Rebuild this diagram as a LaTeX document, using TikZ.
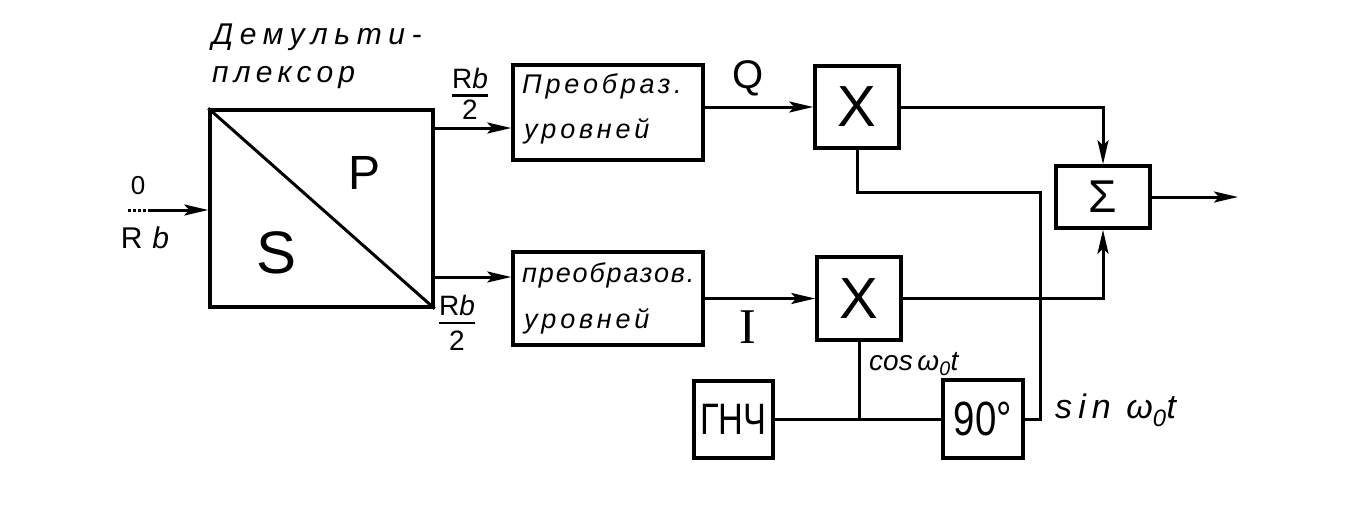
\documentclass[tikz,border=0pt]{standalone}
\usepackage{fontspec}
\setmainfont{Liberation Sans}
\newfontfamily\serifI{Liberation Serif}
\usetikzlibrary{arrows.meta}
\setlength{\arrayrulewidth}{2.5pt}
\begin{document}
\begin{tikzpicture}[x=1pt,y=-1pt,
  blk/.style={draw,line width=3.5pt,inner sep=0pt},
  wire/.style={line width=3pt},
  arr/.style={wire,-{Stealth[length=24pt,width=11pt,inset=5pt]}},
  lbl/.style={inner sep=0pt},
  hand/.style={lbl,anchor=base west,font=\fontsize{27}{30}\selectfont\itshape\addfontfeature{LetterSpace=14}},
  frac/.style={lbl,font=\fontsize{28}{30}\selectfont}
]
\path[use as bounding box,fill=white] (0,0) rectangle (1358,523);

% blocks
\node[blk,minimum width=223pt,minimum height=197pt] (dm) at (321.5,208.5) {};
\node[blk,minimum width=190pt,minimum height=95pt] (pr1) at (608,112.5) {};
\node[blk,minimum width=190pt,minimum height=93pt] (pr2) at (608,298.5) {};
\node[blk,minimum width=84pt,minimum height=82pt,font=\fontsize{58}{60}\selectfont] (x1) at (857,107) {X};
\node[blk,minimum width=84pt,minimum height=83pt,font=\fontsize{58}{60}\selectfont] (x2) at (859,298.5) {X};
\node[blk,minimum width=94pt,minimum height=62pt,font=\fontsize{46}{48}\selectfont] (sig) at (1103,197) {Σ};
\node[blk,minimum width=79pt,minimum height=77pt] (gnc) at (733.5,419.5) {\fontsize{44}{46}\selectfont\scalebox{0.78}[1]{ГНЧ}};
\node[blk,minimum width=80pt,minimum height=78pt] (p90) at (983,419) {\fontsize{48}{50}\selectfont\scalebox{0.8}[1]{90°}};

% demux interior
\draw[line width=3pt] (dm.north west) -- (dm.south east);
\node[lbl,font=\fontsize{48}{50}\selectfont] (pP) at (365,173) {P};
\node[lbl,font=\fontsize{60}{62}\selectfont] (pS) at (277,253) {S};

% texts in converters
\node[hand] (t1a) at (522,93) {Преобраз.};
\node[hand] (t1b) at (524,138) {уровней};
\node[hand,font=\fontsize{27}{30}\selectfont\itshape\addfontfeature{LetterSpace=7}] (t2a) at (522,282) {преобразов.};
\node[hand] (t2b) at (524,328) {уровней};

% title
\node[lbl,anchor=base west,font=\fontsize{30}{32}\selectfont\itshape\addfontfeature{LetterSpace=22}] (ttl1) at (212,44) {Демульти-};
\node[lbl,anchor=base west,font=\fontsize{30}{32}\selectfont\itshape\addfontfeature{LetterSpace=17}] (ttl2) at (212,82) {плексор};

% input
\coordinate (in0) at (128,210);
\coordinate (in1) at (150,210);
\draw[wire,dotted] (in0) -- (in1);
\draw[arr] (in1) -- (dm.west |- in1);
\node[lbl,font=\fontsize{26}{28}\selectfont] (lz) at (138,186) {0};
\node[lbl,font=\fontsize{30}{32}\selectfont] (lrb) at (145,238) {R\,\,{\itshape b}};

% demux outputs
\coordinate (o1) at (433,128);
\coordinate (o2) at (433,277);
\draw[arr] (o1) -- (pr1.west |- o1);
\draw[arr] (o2) -- (pr2.west |- o2);
\node[frac] (f1) at (470,98) {\begin{tabular}{@{}c@{}}R{\itshape b}\\[-3pt]\hline\\[-28pt]2\end{tabular}};
\node[frac] (f2) at (457,327) {\begin{tabular}{@{}c@{}}R{\itshape b}\\[-3pt]\hline\\[-25pt]2\end{tabular}};

% Q and I
\draw[arr] (pr1.east |- x1.west) -- (x1.west);
\draw[arr] (pr2.east |- x2.west) -- (x2.west);
\node[lbl,font=\fontsize{40}{42}\selectfont] (lQ) at (748,78) {Q};
\node[lbl,font=\serifI\fontsize{50}{52}\selectfont] (lI) at (748,327) {I};

% to summer
\draw[arr] (x1.east) -- (sig.north |- x1.east) -- (sig.north);
\draw[arr] (x2.east) -- (sig.south |- x2.east) -- (sig.south);
\coordinate (out) at (1238,197);
\draw[arr] (sig.east) -- (out);

% carrier
\coordinate (jn) at (x2.south |- gnc.east);
\draw[wire] (gnc.east) -- (p90.west |- gnc.east);
\draw[wire] (x2.south) -- (jn);
\coordinate (c1) at (1040,192);
\draw[wire] (x1.south) -- (x1.south |- c1) -- (c1) -- (c1 |- p90.east) -- (p90.east);

\node[lbl,anchor=base west,font=\fontsize{28}{30}\selectfont\itshape] (lcos) at (869,370) {cos\,ω\textsubscript{0}t};
\node[lbl,anchor=base west,font=\fontsize{34}{36}\selectfont\itshape\addfontfeature{LetterSpace=18}] (lsin) at (1055,418) {sin ω\textsubscript{0}t};
\end{tikzpicture}
\end{document}
